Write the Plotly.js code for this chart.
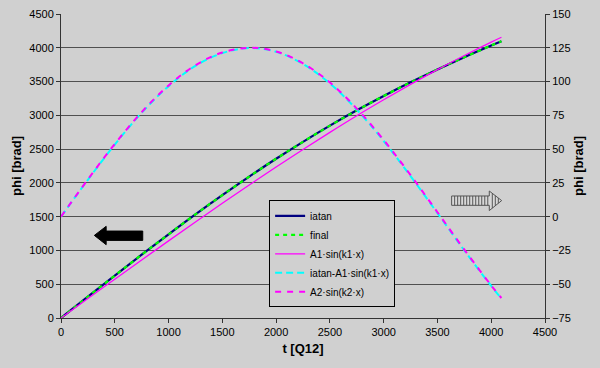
<!DOCTYPE html>
<html>
<head>
<meta charset="utf-8">
<script src="https://cdn.plot.ly/plotly-3.0.1.min.js"></script>
<style>html,body{margin:0;padding:0;background:#d0d0d0;}#chart{width:600px;height:368px;}</style>
</head>
<body>
<div id="chart"></div>
<script>
// t [Q12]
const t = [0, 250, 500, 750, 1000, 1250, 1500, 1750, 2000, 2250, 2500, 2750, 3000, 3250, 3500, 3750, 4000, 4095];
// left axis series [brad]
const iatan = [0, 315, 628, 937, 1239, 1534, 1819, 2094, 2357, 2608, 2847, 3074, 3287, 3489, 3680, 3861, 4033, 4096];
const finalS = [0, 315, 628, 937, 1239, 1534, 1819, 2094, 2357, 2608, 2847, 3074, 3287, 3489, 3680, 3861, 4033, 4096];
const a1sin = [0, 288, 574, 859, 1142, 1422, 1698, 1969, 2235, 2495, 2748, 2994, 3230, 3458, 3677, 3886, 4084, 4156];
// right axis series [brad]
const iatanMinusA1 = [0, 27.3, 53.4, 76.9, 96.6, 111.6, 121.1, 124.8, 122.0, 113.0, 98.6, 79.2, 56.0, 30.0, 2.6, -25.0, -51.3, -60.6];
const a2sin = [0, 27.6, 53.8, 77.4, 97.1, 112.1, 121.5, 125.0, 122.3, 113.5, 99.3, 80.0, 56.8, 30.8, 3.3, -24.4, -50.9, -60.2];

const traces = [
  {x: t, y: iatan, name: 'iatan', type: 'scatter', mode: 'lines', line: {color: '#000080', width: 2.2, shape: 'spline'}},
  {x: t, y: finalS, name: 'final', type: 'scatter', mode: 'lines', line: {color: '#00ff00', width: 2.2, dash: '4px,4px', shape: 'spline'}},
  {x: t, y: a1sin, name: 'A1·sin(k1·x)', type: 'scatter', mode: 'lines', line: {color: '#ff00ff', width: 1.3, shape: 'spline'}},
  {x: t, y: iatanMinusA1, name: 'iatan-A1·sin(k1·x)', yaxis: 'y2', type: 'scatter', mode: 'lines', line: {color: '#00ffff', width: 2, dash: '7px,4px', shape: 'spline'}},
  {x: t, y: a2sin, name: 'A2·sin(k2·x)', yaxis: 'y2', type: 'scatter', mode: 'lines', line: {color: '#ff00ff', width: 2, dash: '6px,6px', shape: 'spline'}}
];

const shapes = [];
// left black arrow
shapes.push({type: 'path', xref: 'x', yref: 'y', layer: 'above',
  path: 'M310,1223 L420,1357 L420,1287 L760,1287 L760,1149 L420,1149 L420,1085 Z',
  fillcolor: '#000000', line: {color: '#000000', width: 1}});
// right hatched arrow
shapes.push({type: 'path', xref: 'x', yref: 'y', layer: 'above',
  path: 'M3632,1806 L3982,1806 L3982,1880 L4097,1738 L3982,1590 L3982,1668 L3632,1668 Z',
  fillcolor: '#d8d8d8', line: {color: '#555555', width: 1}});
for (let k = 3660; k < 3982; k += 28) {
  shapes.push({type: 'line', xref: 'x', yref: 'y', layer: 'above', x0: k, x1: k, y0: 1668, y1: 1806, line: {color: '#555555', width: 1}});
}
for (let k = 4010; k < 4070; k += 28) {
  const h = (4097 - k) / 115;
  shapes.push({type: 'line', xref: 'x', yref: 'y', layer: 'above', x0: k, x1: k, y0: 1738 - 148 * h, y1: 1738 + 142 * h, line: {color: '#555555', width: 1}});
}

const font = {family: 'Liberation Sans, Arial, sans-serif', size: 11, color: '#000'};
const layout = {
  width: 600, height: 368,
  margin: {l: 61, r: 55, t: 14, b: 50, pad: 0},
  paper_bgcolor: '#d0d0d0', plot_bgcolor: '#d0d0d0',
  font: font,
  showlegend: true,
  legend: {x: 0.43, y: 0.035, xanchor: 'left', yanchor: 'bottom', bgcolor: '#d0d0d0', bordercolor: '#000', borderwidth: 1,
    font: {family: 'Liberation Sans, Arial, sans-serif', size: 10, color: '#000'}, tracegroupgap: 0, itemwidth: 30},
  xaxis: {range: [0, 4500], dtick: 500, tick0: 0, showgrid: false, zeroline: false, showline: true, linecolor: '#333', linewidth: 1,
    ticks: 'outside', ticklen: 4, tickcolor: '#333', tickfont: font,
    title: {text: '<b>t [Q12]</b>', font: {family: 'Liberation Sans, Arial, sans-serif', size: 13, color: '#000'}, standoff: 6}},
  yaxis: {range: [0, 4500], dtick: 500, tick0: 0, showgrid: true, gridcolor: '#505050', gridwidth: 1, zeroline: false, showline: true, linecolor: '#333', linewidth: 1,
    ticks: 'outside', ticklen: 4, tickcolor: '#333', tickfont: font,
    title: {text: '<b>phi [brad]</b>', font: {family: 'Liberation Sans, Arial, sans-serif', size: 13, color: '#000'}, standoff: 4}},
  yaxis2: {range: [-75, 150], dtick: 25, tick0: 0, overlaying: 'y', side: 'right', showgrid: false, zeroline: false, showline: true, linecolor: '#333', linewidth: 1,
    ticks: 'outside', ticklen: 4, tickcolor: '#333', tickfont: font,
    title: {text: '<b>phi [brad]</b>', font: {family: 'Liberation Sans, Arial, sans-serif', size: 13, color: '#000'}, standoff: 4}},
  shapes: shapes
};
Plotly.newPlot('chart', traces, layout, {displayModeBar: false, staticPlot: true});
</script>
</body>
</html>
